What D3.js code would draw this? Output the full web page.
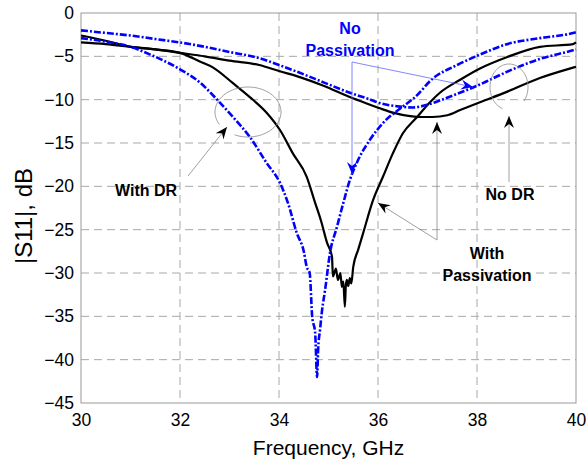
<!DOCTYPE html>
<html>
<head>
<meta charset="utf-8">
<script src="https://cdn.jsdelivr.net/npm/d3@7"></script>
<style>
  body { margin: 0; background: #fff; }
  svg { font-family: Arial, "Liberation Sans", sans-serif; }
</style>
</head>
<body>
<svg id="chart" width="586" height="460"></svg>
<script>
// tick labels
var xTicks = [30, 32, 34, 36, 38, 40];
var yTicks = [0, -5, -10, -15, -20, -25, -30, -35, -40, -45];

// No DR, no passivation (blue)
var freqNoDrNoPass = [30, 30.5, 31, 31.5, 32, 32.5, 33, 33.6, 34, 34.42, 34.9, 35.43, 35.8, 36.04, 36.44, 36.7, 36.99, 37.25, 37.52, 37.92, 38.3, 38.6, 39.27, 39.94, 40];
var s11NoDrNoPass = [-2.0, -2.3, -2.6, -3.0, -3.4, -3.9, -4.5, -5.2, -6.0, -6.9, -8.0, -9.2, -9.9, -10.4, -10.8, -10.9, -10.6, -10.1, -9.5, -8.6, -7.6, -6.8, -5.3, -4.3, -4.2];

// No DR, with passivation (black)
var freqNoDrPass = [30, 30.5, 31, 31.5, 32, 32.5, 33, 33.6, 34, 34.42, 34.9, 35.43, 35.8, 36.04, 36.3, 36.65, 36.9, 37.1, 37.4, 37.66, 38.06, 38.6, 39.27, 39.94, 40];
var s11NoDrPass = [-3.4, -3.6, -3.9, -4.2, -4.6, -5.0, -5.5, -6.0, -6.7, -7.4, -8.4, -9.7, -10.5, -11.0, -11.5, -11.9, -12.0, -12.0, -11.8, -11.2, -10.3, -9.1, -7.5, -6.3, -6.2];

// With DR, no passivation (blue)
var freqDrNoPass = [30, 30.5, 31, 31.4, 32, 32.4, 32.75, 33.07, 33.41, 33.75, 34.02, 34.18, 34.36, 34.5, 34.56, 34.62, 34.67, 34.73, 34.77, 34.79, 34.83, 34.87, 34.93, 35.03, 35.17, 35.3, 35.43, 35.57, 35.84, 36.1, 36.5, 36.75, 37.1, 37.6, 38.06, 38.6, 39.27, 39.94, 40];
var s11DrNoPass = [-2.9, -3.3, -3.9, -4.8, -6.5, -8.0, -10.0, -12.0, -14.3, -17.3, -19.6, -21.9, -25.4, -27.5, -29.3, -30.0, -35.0, -36.9, -42.0, -38.9, -36.5, -34.3, -32.0, -27.7, -24.7, -21.9, -19.3, -17.3, -14.6, -12.7, -10.8, -9.7, -7.6, -6.0, -4.8, -3.6, -2.9, -2.3, -2.2];

// With DR, with passivation (black)
var freqDrPass = [30, 30.5, 31, 31.5, 32, 32.4, 32.67, 33.07, 33.41, 33.75, 34.02, 34.28, 34.56, 34.73, 34.85, 34.97, 35.07, 35.09, 35.15, 35.19, 35.24, 35.27, 35.3, 35.33, 35.35, 35.37, 35.4, 35.43, 35.46, 35.5, 35.6, 35.7, 35.9, 36.1, 36.3, 36.5, 36.79, 37.05, 37.25, 37.66, 38.06, 38.6, 39.27, 39.94, 40];
var s11DrPass = [-2.6, -3.2, -3.9, -4.2, -4.6, -5.6, -6.3, -8.1, -9.7, -11.5, -13.5, -16.2, -18.9, -21.9, -24.0, -26.5, -28.1, -30.4, -29.5, -30.8, -30.0, -31.6, -31.0, -33.9, -31.5, -30.8, -31.5, -30.6, -31.2, -29.3, -27.3, -25.4, -21.6, -18.9, -16.2, -13.9, -12.0, -10.3, -9.2, -7.7, -6.4, -5.1, -3.9, -3.6, -3.4];

var series = [
  { f: freqNoDrPass, s: s11NoDrPass, color: '#000', dash: null },
  { f: freqDrPass, s: s11DrPass, color: '#000', dash: null },
  { f: freqNoDrNoPass, s: s11NoDrNoPass, color: '#0000ff', dash: '7,2,2,2' },
  { f: freqDrNoPass, s: s11DrNoPass, color: '#0000ff', dash: '7,2,2,2' }
];

var margin = { left: 81, right: 10, top: 13, bottom: 57 };
var width = 586, height = 460;

var svg = d3.select('#chart');

var x = d3.scaleLinear()
  .domain([30, 40])
  .range([margin.left, width - margin.right]);

var y = d3.scaleLinear()
  .domain([-45, 0])
  .range([height - margin.bottom, margin.top]);

// grid
svg.append('g')
  .selectAll('line')
  .data(xTicks.slice(1, -1))
  .enter().append('line')
  .attr('x1', function (d) { return x(d); })
  .attr('x2', function (d) { return x(d); })
  .attr('y1', y(0))
  .attr('y2', y(-45))
  .attr('stroke', '#a8a8a8')
  .attr('stroke-dasharray', '8,5');

svg.append('g')
  .selectAll('line')
  .data(yTicks.slice(1, -1))
  .enter().append('line')
  .attr('x1', x(30))
  .attr('x2', x(40))
  .attr('y1', function (d) { return y(d); })
  .attr('y2', function (d) { return y(d); })
  .attr('stroke', '#a8a8a8')
  .attr('stroke-dasharray', '8,5');

// frame
svg.append('rect')
  .attr('x', x(30))
  .attr('y', y(0))
  .attr('width', x(40) - x(30))
  .attr('height', y(-45) - y(0))
  .attr('fill', 'none')
  .attr('stroke', '#999');

// axes
var xAxis = svg.append('g')
  .attr('transform', 'translate(0,' + y(-45) + ')')
  .call(d3.axisBottom(x).tickValues(xTicks).tickSize(0).tickPadding(7));
var yAxis = svg.append('g')
  .attr('transform', 'translate(' + x(30) + ',0)')
  .call(d3.axisLeft(y).tickValues(yTicks).tickSize(0).tickPadding(7));

[xAxis, yAxis].forEach(function (a) {
  a.select('.domain').remove();
  a.selectAll('text')
    .attr('fill', '#000')
    .style('font-size', '17.5px')
    .style('font-family', 'Arial, "Liberation Sans", sans-serif');
});
xAxis.selectAll('text').attr('dy', '0.9em');

svg.append('text')
  .attr('x', (x(30) + x(40)) / 2)
  .attr('y', 455)
  .attr('text-anchor', 'middle')
  .style('font-size', '21px')
  .text('Frequency, GHz');

svg.append('text')
  .attr('transform', 'translate(32,216) rotate(-90)')
  .attr('text-anchor', 'middle')
  .style('font-size', '24px')
  .text('|S11|, dB');

// curves
var line = d3.line()
  .x(function (d) { return x(d[0]); })
  .y(function (d) { return y(d[1]); })
  .curve(d3.curveMonotoneX);

series.forEach(function (sr) {
  var pts = d3.zip(sr.f, sr.s);
  svg.append('path')
    .datum(pts)
    .attr('d', line)
    .attr('fill', 'none')
    .attr('stroke', sr.color)
    .attr('stroke-width', sr.dash ? 2.6 : 2.2)
    .attr('stroke-dasharray', sr.dash)
    .attr('stroke-linejoin', 'round');
});

// arrow heads
var defs = svg.append('defs');
function marker(id, color) {
  defs.append('marker')
    .attr('id', id)
    .attr('viewBox', '-12 -6 13 12')
    .attr('refX', 0)
    .attr('refY', 0)
    .attr('markerWidth', 13)
    .attr('markerHeight', 12)
    .attr('markerUnits', 'userSpaceOnUse')
    .attr('orient', 'auto')
    .append('path')
    .attr('d', 'M0,0 L-12,-5 L-8,0 L-12,5 Z')
    .attr('fill', color);
}
marker('arrBlack', '#000');
marker('arrBlue', '#0000ff');

function leader(x1, y1, x2, y2, color, m) {
  svg.append('line')
    .attr('x1', x1).attr('y1', y1)
    .attr('x2', x2).attr('y2', y2)
    .attr('stroke', color)
    .attr('stroke-width', 0.8)
    .attr('marker-end', 'url(#' + m + ')');
}

function ring(cx, cy, rx, ry, a0, a1) {
  var pts = d3.range(a0, a1 + 1, 4).map(function (a) {
    var r = a * Math.PI / 180;
    return [cx + rx * Math.cos(r), cy + ry * Math.sin(r)];
  });
  svg.append('path')
    .attr('d', d3.line()(pts))
    .attr('fill', 'none')
    .attr('stroke', '#888')
    .attr('stroke-width', 0.8);
}

function label(lines, cx, by, color) {
  lines.forEach(function (t, i) {
    svg.append('text')
      .attr('x', cx)
      .attr('y', by + i * 22)
      .attr('text-anchor', 'middle')
      .attr('fill', color)
      .style('font-size', '16px')
      .style('font-weight', 'bold')
      .text(t);
  });
}

// No Passivation
label(['No', 'Passivation'], 350, 34, '#0000ff');
leader(352, 62, 352, 174, '#6666ff', 'arrBlue');
leader(352, 62, 473, 87, '#6666ff', 'arrBlue');

// With DR
label(['With DR'], 146, 196, '#000');
ring(248, 112, 33, 25, 150, 476);
leader(188, 176, 227, 127, '#888', 'arrBlack');

// No DR
label(['No DR'], 510, 200, '#000');
ring(509, 87, 19, 23, 110, 400);
leader(509, 182, 509, 116, '#888', 'arrBlack');

// With Passivation
label(['With', 'Passivation'], 487, 259, '#000');
leader(437, 240, 437, 122, '#888', 'arrBlack');
leader(437, 240, 378, 203, '#888', 'arrBlack');
</script>
</body>
</html>
